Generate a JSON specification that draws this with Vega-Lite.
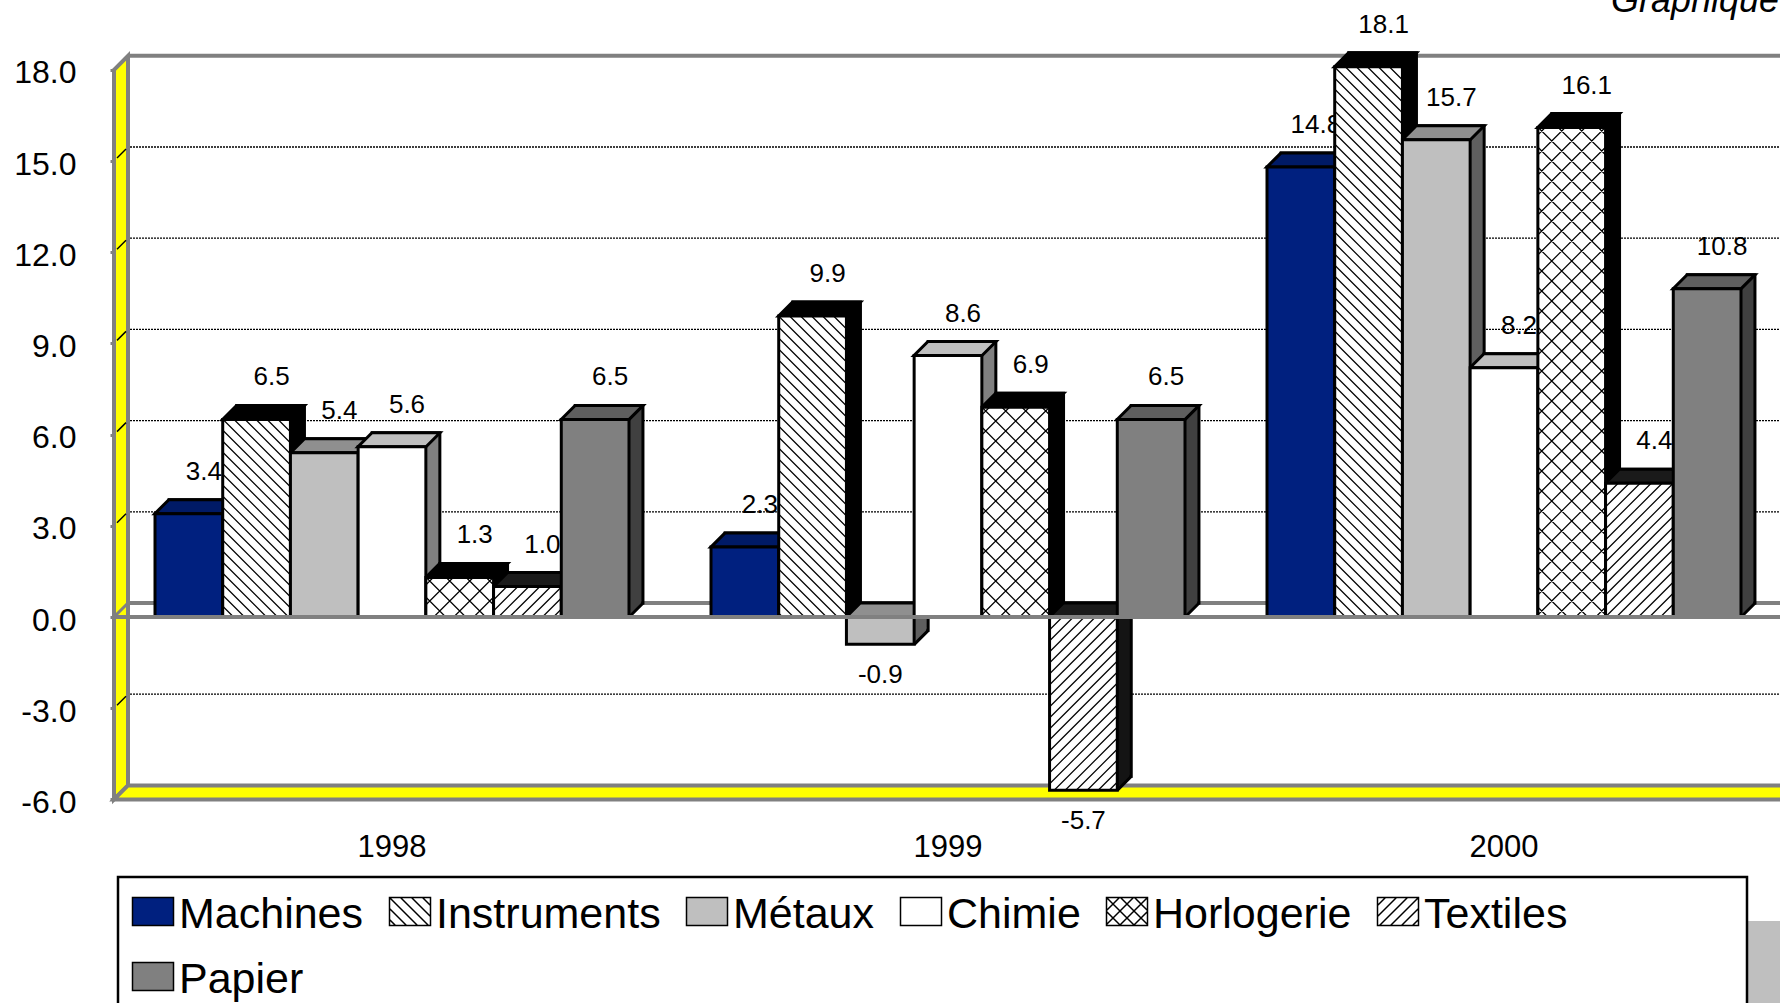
{
"$schema":"https://vega.github.io/schema/vega-lite/v6.json",
"width":1780,"height":1003,"padding":0,"autosize":{"type":"none"},
"background":"white",
"view":{"stroke":null},
"config":{"font":"Liberation Sans","text":{"font":"Liberation Sans"}},
"datasets":{
"bars":[
{"year":"1998","series":"Machines","value":3.4},{"year":"1998","series":"Instruments","value":6.5},{"year":"1998","series":"Métaux","value":5.4},{"year":"1998","series":"Chimie","value":5.6},{"year":"1998","series":"Horlogerie","value":1.3},{"year":"1998","series":"Textiles","value":1.0},{"year":"1998","series":"Papier","value":6.5},
{"year":"1999","series":"Machines","value":2.3},{"year":"1999","series":"Instruments","value":9.9},{"year":"1999","series":"Métaux","value":-0.9},{"year":"1999","series":"Chimie","value":8.6},{"year":"1999","series":"Horlogerie","value":6.9},{"year":"1999","series":"Textiles","value":-5.7},{"year":"1999","series":"Papier","value":6.5},
{"year":"2000","series":"Machines","value":14.8},{"year":"2000","series":"Instruments","value":18.1},{"year":"2000","series":"Métaux","value":15.7},{"year":"2000","series":"Chimie","value":8.2},{"year":"2000","series":"Horlogerie","value":16.1},{"year":"2000","series":"Textiles","value":4.4},{"year":"2000","series":"Papier","value":10.8}
],
"grid":[{"level":-3},{"level":3},{"level":6},{"level":9},{"level":12},{"level":15}],
"one":[{"n":1}]
},
"resolve":{"scale":{"fill":"independent","shape":"independent"},"legend":{"fill":"independent","shape":"independent"}},
"layer":[
{"data":{"name":"one"},"mark":{"type":"point","filled":true,"opacity":1,"fill":"#FFFF00","stroke":"#808080","strokeWidth":4,"size":4,"xOffset":-278,"shape":"M0 0L14 -14V715.6L0 729.6Z"},
 "encoding":{"x":{"datum":"1998","type":"nominal","scale":{"domain":["1998","1999","2000"],"range":[114,1782],"paddingInner":0.1475,"paddingOuter":0.07375,"round":false},"axis":{"title":null,"labelAngle":0,"domain":false,"ticks":false,"grid":false,"offset":-204,"labelPadding":33,"labelFontSize":31,"labelFont":"Liberation Sans","labelColor":"#000000","zindex":0}},
 "y":{"datum":18,"type":"quantitative","scale":{"domain":[-6,18],"range":[799.4,69.8],"nice":false,"zero":false},"axis":{"title":null,"values":[-6,-3,0,3,6,9,12,15,18],"format":".1f","labelExpr":"replace(datum.label,'−','-')","grid":false,"domain":false,"offset":-114,"tickColor":"#808080","tickWidth":3,"tickSize":4,"labelPadding":34,"labelOffset":3,"labelFontSize":32,"labelFont":"Liberation Sans","labelColor":"#000000","zindex":0}}}},
{"data":{"name":"one"},"mark":{"type":"point","filled":true,"opacity":1,"fill":"#FFFF00","stroke":"#808080","strokeWidth":4,"size":4,"xOffset":-278,"shape":"M0 0L14 -14H1700V0Z"},
 "encoding":{"x":{"datum":"1998","type":"nominal"},"y":{"datum":-6,"type":"quantitative"}}},
{"data":{"name":"one"},"mark":{"type":"rule","stroke":"#808080","strokeWidth":4,"xOffset":-264,"x2Offset":290,"yOffset":-14},
 "encoding":{"x":{"datum":"1998","type":"nominal"},"x2":{"datum":"2000"},"y":{"datum":18,"type":"quantitative"}}},
{"data":{"name":"one"},"mark":{"type":"rule","stroke":"#808080","strokeWidth":4,"xOffset":-264,"x2Offset":290,"yOffset":-14},
 "encoding":{"x":{"datum":"1998","type":"nominal"},"x2":{"datum":"2000"},"y":{"datum":0,"type":"quantitative"}}},
{"data":{"name":"grid"},"mark":{"type":"rule","stroke":"#000000","strokeWidth":1.3,"strokeDash":[2,1],"xOffset":-262,"x2Offset":290,"yOffset":-14},
 "encoding":{"x":{"datum":"1998","type":"nominal"},"x2":{"datum":"2000"},"y":{"field":"level","type":"quantitative"}}},
{"data":{"name":"grid"},"mark":{"type":"point","filled":false,"opacity":1,"stroke":"#000000","strokeWidth":1.5,"size":4,"xOffset":-278,"shape":"M3 -3L12 -12"},
 "encoding":{"x":{"datum":"1998","type":"nominal"},"y":{"field":"level","type":"quantitative"}}},
{"data":{"name":"one"},"mark":{"type":"point","filled":false,"opacity":1,"stroke":"#808080","strokeWidth":3,"size":4,"xOffset":-278,"shape":"M0 0L14 -14"},
 "encoding":{"x":{"datum":"1998","type":"nominal"},"y":{"datum":0,"type":"quantitative"}}},
{"data":{"name":"one"},"mark":{"type":"point","filled":true,"opacity":1,"fill":"#BFBFBF","size":4,"xOffset":243,"yOffset":0,"shape":"M0 0H40V100H0Z"},
 "encoding":{"x":{"datum":"2000","type":"nominal"},"y":{"datum":-10,"type":"quantitative"}}},
{"data":{"name":"one"},"mark":{"type":"point","filled":true,"opacity":1,"fill":"#FFFFFF","stroke":"#000000","strokeWidth":2.5,"size":4,"xOffset":-274,"shape":"M0 0H1629V160H0Z"},
 "encoding":{"x":{"datum":"1998","type":"nominal"},"y":{"datum":-8.55,"type":"quantitative"}}},

{"data":{"name":"bars"},"transform":[{"filter":"datum.series==='Machines'"}],"mark":{"type":"bar","width":67.7,"fill":"#00104F","stroke":"#000000","strokeWidth":3,"xOffset":-189.1,"yOffset":-14},"encoding":{"x":{"field":"year","type":"nominal"},"y":{"field":"value","type":"quantitative"}}},
{"data":{"name":"bars"},"transform":[{"filter":"datum.series==='Instruments'"}],"mark":{"type":"bar","width":67.7,"fill":"#000000","stroke":"#000000","strokeWidth":3,"xOffset":-121.4,"yOffset":-14},"encoding":{"x":{"field":"year","type":"nominal"},"y":{"field":"value","type":"quantitative"}}},
{"data":{"name":"bars"},"transform":[{"filter":"datum.series==='Métaux'"}],"mark":{"type":"bar","width":67.7,"fill":"#5F5F5F","stroke":"#000000","strokeWidth":3,"xOffset":-53.7,"yOffset":-14},"encoding":{"x":{"field":"year","type":"nominal"},"y":{"field":"value","type":"quantitative"}}},
{"data":{"name":"bars"},"transform":[{"filter":"datum.series==='Chimie'"}],"mark":{"type":"bar","width":67.7,"fill":"#808080","stroke":"#000000","strokeWidth":3,"xOffset":14,"yOffset":-14},"encoding":{"x":{"field":"year","type":"nominal"},"y":{"field":"value","type":"quantitative"}}},
{"data":{"name":"bars"},"transform":[{"filter":"datum.series==='Horlogerie'"}],"mark":{"type":"bar","width":67.7,"fill":"#000000","stroke":"#000000","strokeWidth":3,"xOffset":81.7,"yOffset":-14},"encoding":{"x":{"field":"year","type":"nominal"},"y":{"field":"value","type":"quantitative"}}},
{"data":{"name":"bars"},"transform":[{"filter":"datum.series==='Textiles'"}],"mark":{"type":"bar","width":67.7,"fill":"#141414","stroke":"#000000","strokeWidth":3,"xOffset":149.4,"yOffset":-14},"encoding":{"x":{"field":"year","type":"nominal"},"y":{"field":"value","type":"quantitative"}}},
{"data":{"name":"bars"},"transform":[{"filter":"datum.series==='Papier'"}],"mark":{"type":"bar","width":67.7,"fill":"#404040","stroke":"#000000","strokeWidth":3,"xOffset":217.1,"yOffset":-14},"encoding":{"x":{"field":"year","type":"nominal"},"y":{"field":"value","type":"quantitative"}}},

{"data":{"name":"bars"},"transform":[{"filter":"datum.value>=0"}],"mark":{"type":"point","filled":true,"opacity":1,"size":4,"shape":"M34 0L46 -12V-17H34Z"},
 "encoding":{"x":{"field":"year","type":"nominal"},"xOffset":{"field":"series","type":"nominal","scale":{"domain":["Machines","Instruments","Métaux","Chimie","Horlogerie","Textiles","Papier"],"paddingInner":0,"paddingOuter":0}},"y":{"datum":0,"type":"quantitative"},
 "fill":{"field":"series","type":"nominal","legend":null,"scale":{"domain":["Machines","Instruments","Métaux","Chimie","Horlogerie","Textiles","Papier"],"range":["#00104F","#000000","#5F5F5F","#808080","#000000","#141414","#404040"]}}}},
{"data":{"name":"bars"},"transform":[{"filter":"datum.value<0"}],"mark":{"type":"point","filled":true,"opacity":1,"size":4,"shape":"M34 0L46 -12V-17H34Z"},
 "encoding":{"x":{"field":"year","type":"nominal"},"xOffset":{"field":"series","type":"nominal"},"y":{"field":"value","type":"quantitative"},
 "fill":{"field":"series","type":"nominal","legend":null,"scale":{"domain":["Machines","Instruments","Métaux","Chimie","Horlogerie","Textiles","Papier"],"range":["#00104F","#000000","#5F5F5F","#808080","#000000","#141414","#404040"]}}}},
{"data":{"name":"bars"},"transform":[{"filter":"datum.value>=0"}],"mark":{"type":"point","filled":false,"opacity":1,"size":4,"stroke":"#000000","strokeWidth":3,"shape":"M34 0L48 -14"},
 "encoding":{"x":{"field":"year","type":"nominal"},"xOffset":{"field":"series","type":"nominal"},"y":{"datum":0,"type":"quantitative"}}},
{"data":{"name":"bars"},"transform":[{"filter":"datum.value<0"}],"mark":{"type":"point","filled":false,"opacity":1,"size":4,"stroke":"#000000","strokeWidth":3,"shape":"M34 0L48 -14"},
 "encoding":{"x":{"field":"year","type":"nominal"},"xOffset":{"field":"series","type":"nominal"},"y":{"field":"value","type":"quantitative"}}},

{"data":{"name":"bars"},"transform":[{"filter":"datum.value>=0"}],"mark":{"type":"point","filled":true,"opacity":1,"size":4,"stroke":"#000000","strokeWidth":3,"shape":"M-34 0H34L48 -14H-20Z"},
 "encoding":{"x":{"field":"year","type":"nominal"},"xOffset":{"field":"series","type":"nominal"},"y":{"field":"value","type":"quantitative"},
 "fill":{"field":"series","type":"nominal","legend":null,"scale":{"domain":["Machines","Instruments","Métaux","Chimie","Horlogerie","Textiles","Papier"],"range":["#001A66","#000000","#8F8F8F","#BFBFBF","#000000","#1A1A1A","#5F5F5F"]}}}},
{"data":{"name":"bars"},"transform":[{"filter":"datum.value<0"}],"mark":{"type":"point","filled":true,"opacity":1,"size":4,"stroke":"#000000","strokeWidth":3,"shape":"M-34 0H34L48 -14H-20Z"},
 "encoding":{"x":{"field":"year","type":"nominal"},"xOffset":{"field":"series","type":"nominal"},"y":{"datum":0,"type":"quantitative"},
 "fill":{"field":"series","type":"nominal","legend":null,"scale":{"domain":["Machines","Instruments","Métaux","Chimie","Horlogerie","Textiles","Papier"],"range":["#001A66","#000000","#8F8F8F","#BFBFBF","#000000","#1A1A1A","#5F5F5F"]}}}},

{"data":{"name":"bars"},"transform":[{"filter":"datum.value>=0"}],"mark":{"type":"text","font":"Liberation Sans","fontSize":26,"color":"#000000","baseline":"middle","align":"center","dx":15,"dy":-42},
 "encoding":{"x":{"field":"year","type":"nominal"},"xOffset":{"field":"series","type":"nominal"},"y":{"field":"value","type":"quantitative"},"text":{"field":"value","type":"quantitative","format":".1f"}}},
{"data":{"name":"bars"},"transform":[{"filter":"datum.value<0"}],"mark":{"type":"text","font":"Liberation Sans","fontSize":26,"color":"#000000","baseline":"middle","align":"center","dx":0,"dy":30.5},
 "encoding":{"x":{"field":"year","type":"nominal"},"xOffset":{"field":"series","type":"nominal"},"y":{"field":"value","type":"quantitative"},"text":{"field":"value","type":"nominal"}}},

{"data":{"name":"bars"},"mark":{"type":"bar","stroke":"#000000","strokeWidth":3},
 "encoding":{"x":{"field":"year","type":"nominal"},"xOffset":{"field":"series","type":"nominal"},"y":{"field":"value","type":"quantitative"},
 "fill":{"field":"series","type":"nominal","legend":null,"scale":{"domain":["Machines","Instruments","Métaux","Chimie","Horlogerie","Textiles","Papier"],"range":["#00207F","#FFFFFF","#BFBFBF","#FFFFFF","#FFFFFF","#FFFFFF","#808080"]}}}},

{"data":{"name":"bars"},"transform":[{"filter":"datum.series==='Instruments'"}],"mark":{"type":"point","filled":false,"opacity":1,"size":4,"stroke":"#000000","strokeWidth":1.2},
 "encoding":{"x":{"field":"year","type":"nominal"},"xOffset":{"field":"series","type":"nominal"},"y":{"datum":0,"type":"quantitative"},
 "shape":{"field":"year","type":"nominal","legend":null,"scale":{"domain":["1998","1999","2000"],"range":[
 "M32 -198l2 2M21 -198l13 13M10 -198l24 24M-1 -198l35 35M-12 -198l46 46M-23 -198l57 57M-34 -198l68 68m-68 -57l68 68m-68 -57l68 68m-68 -57l68 68m-68 -57l68 68m-68 -57l68 68m-68 -57l68 68m-68 -57l68 68m-68 -57l68 68m-68 -57l68 68m-68 -57l68 68m-68 -57l68 68M-34 -66l66 66M-34 -55l55 55M-34 -44l44 44M-34 -33l33 33M-34 -22l22 22M-34 -11l11 11",
 "M32 -301l2 2M21 -301l13 13M10 -301l24 24M-1 -301l35 35M-12 -301l46 46M-23 -301l57 57M-34 -301l68 68m-68 -57l68 68m-68 -57l68 68m-68 -57l68 68m-68 -57l68 68m-68 -57l68 68m-68 -57l68 68m-68 -57l68 68m-68 -57l68 68m-68 -57l68 68m-68 -57l68 68m-68 -57l68 68m-68 -57l68 68m-68 -57l68 68m-68 -57l68 68m-68 -57l68 68m-68 -57l68 68m-68 -57l68 68m-68 -57l68 68m-68 -57l68 68m-68 -57l68 68m-68 -57l68 68M-34 -59l59 59M-34 -48l48 48M-34 -37l37 37M-34 -26l26 26M-34 -15l15 15M-34 -4l4 4",
 "M32 -550l2 2M21 -550l13 13M10 -550l24 24M-1 -550l35 35M-12 -550l46 46M-23 -550l57 57M-34 -550l68 68m-68 -57l68 68m-68 -57l68 68m-68 -57l68 68m-68 -57l68 68m-68 -57l68 68m-68 -57l68 68m-68 -57l68 68m-68 -57l68 68m-68 -57l68 68m-68 -57l68 68m-68 -57l68 68m-68 -57l68 68m-68 -57l68 68m-68 -57l68 68m-68 -57l68 68m-68 -57l68 68m-68 -57l68 68m-68 -57l68 68m-68 -57l68 68m-68 -57l68 68m-68 -57l68 68m-68 -57l68 68m-68 -57l68 68m-68 -57l68 68m-68 -57l68 68m-68 -57l68 68m-68 -57l68 68m-68 -57l68 68m-68 -57l68 68m-68 -57l68 68m-68 -57l68 68m-68 -57l68 68m-68 -57l68 68m-68 -57l68 68m-68 -57l68 68m-68 -57l68 68m-68 -57l68 68m-68 -57l68 68m-68 -57l68 68m-68 -57l68 68m-68 -57l68 68m-68 -57l68 68m-68 -57l68 68M-34 -66l66 66M-34 -55l55 55M-34 -44l44 44M-34 -33l33 33M-34 -22l22 22M-34 -11l11 11"
 ]}}}},
{"data":{"name":"bars"},"transform":[{"filter":"datum.series==='Horlogerie'"}],"mark":{"type":"point","filled":false,"opacity":1,"size":4,"stroke":"#000000","strokeWidth":1.2},
 "encoding":{"x":{"field":"year","type":"nominal"},"xOffset":{"field":"series","type":"nominal"},"y":{"datum":0,"type":"quantitative"},
 "shape":{"field":"year","type":"nominal","legend":null,"scale":{"domain":["1998","1999","2000"],"range":[
 "M26 -40l8 8M6 -40l28 28M-14 -40l40 40M-34 -40l40 40M-34 -20l20 20M-26 -40l-8 8M-6 -40l-28 28M14 -40l-40 40M34 -40l-40 40M34 -20l-20 20",
 "M26 -210l8 8M6 -210l28 28M-14 -210l48 48M-34 -210l68 68m-68 -48l68 68m-68 -48l68 68m-68 -48l68 68m-68 -48l68 68m-68 -48l68 68m-68 -48l68 68m-68 -48l68 68M-34 -50l50 50M-34 -30l30 30M-34 -10l10 10M-26 -210l-8 8M-6 -210l-28 28M14 -210l-48 48M34 -210l-68 68m68 -48l-68 68m68 -48l-68 68m68 -48l-68 68m68 -48l-68 68m68 -48l-68 68m68 -48l-68 68m68 -48l-68 68M34 -50l-50 50M34 -30l-30 30M34 -10l-10 10",
 "M26 -490l8 8M6 -490l28 28M-14 -490l48 48M-34 -490l68 68m-68 -48l68 68m-68 -48l68 68m-68 -48l68 68m-68 -48l68 68m-68 -48l68 68m-68 -48l68 68m-68 -48l68 68m-68 -48l68 68m-68 -48l68 68m-68 -48l68 68m-68 -48l68 68m-68 -48l68 68m-68 -48l68 68m-68 -48l68 68m-68 -48l68 68m-68 -48l68 68m-68 -48l68 68m-68 -48l68 68m-68 -48l68 68m-68 -48l68 68m-68 -48l68 68M-34 -50l50 50M-34 -30l30 30M-34 -10l10 10M-26 -490l-8 8M-6 -490l-28 28M14 -490l-48 48M34 -490l-68 68m68 -48l-68 68m68 -48l-68 68m68 -48l-68 68m68 -48l-68 68m68 -48l-68 68m68 -48l-68 68m68 -48l-68 68m68 -48l-68 68m68 -48l-68 68m68 -48l-68 68m68 -48l-68 68m68 -48l-68 68m68 -48l-68 68m68 -48l-68 68m68 -48l-68 68m68 -48l-68 68m68 -48l-68 68m68 -48l-68 68m68 -48l-68 68m68 -48l-68 68m68 -48l-68 68M34 -50l-50 50M34 -30l-30 30M34 -10l-10 10"
 ]}}}},
{"data":{"name":"bars"},"transform":[{"filter":"datum.series==='Textiles'"}],"mark":{"type":"point","filled":false,"opacity":1,"size":4,"stroke":"#000000","strokeWidth":1.2},
 "encoding":{"x":{"field":"year","type":"nominal"},"xOffset":{"field":"series","type":"nominal"},"y":{"datum":0,"type":"quantitative"},
 "shape":{"field":"year","type":"nominal","legend":null,"scale":{"domain":["1998","1999","2000"],"range":[
 "M-32 -30l-2 2M-21 -30l-13 13M-10 -30l-24 24M1 -30l-30 30M12 -30l-30 30M23 -30l-30 30M34 -30l-30 30M34 -19l-19 19M34 -8l-8 8",
 "M-32 0l-2 2M-21 0l-13 13M-10 0l-24 24M1 0l-35 35M12 0l-46 46M23 0l-57 57M34 0l-68 68m68 -57l-68 68m68 -57l-68 68m68 -57l-68 68m68 -57l-68 68m68 -57l-68 68m68 -57l-68 68m68 -57l-68 68m68 -57l-68 68m68 -57l-68 68M34 110l-63 63M34 121l-52 52M34 132l-41 41M34 143l-30 30M34 154l-19 19M34 165l-8 8",
 "M-32 -134l-2 2M-21 -134l-13 13M-10 -134l-24 24M1 -134l-35 35M12 -134l-46 46M23 -134l-57 57M34 -134l-68 68m68 -57l-68 68m68 -57l-68 68m68 -57l-68 68m68 -57l-68 68m68 -57l-68 68m68 -57l-68 68M34 -57l-57 57M34 -46l-46 46M34 -35l-35 35M34 -24l-24 24M34 -13l-13 13M34 -2l-2 2"
 ]}}}},

{"data":{"name":"one"},"mark":{"type":"rule","stroke":"#808080","strokeWidth":4,"xOffset":-278,"x2Offset":290},
 "encoding":{"x":{"datum":"1998","type":"nominal"},"x2":{"datum":"2000"},"y":{"datum":0,"type":"quantitative"}}},

{"data":{"name":"one"},"mark":{"type":"text","font":"Liberation Sans","fontStyle":"italic","fontSize":36,"align":"left","baseline":"alphabetic","color":"#000000","xOffset":107,"yOffset":-58,"text":"Graphique"},
 "encoding":{"x":{"datum":"2000","type":"nominal"},"y":{"datum":18,"type":"quantitative"}}},

{"data":{"name":"bars"},"transform":[{"filter":"false"}],"mark":{"type":"point","filled":true,"opacity":1,"size":4,"stroke":"#000000","strokeWidth":2},
 "encoding":{
 "fill":{"field":"series","type":"nominal","scale":{"domain":["Machines","Instruments","Métaux","Chimie","Horlogerie","Textiles","Papier"],"range":["#00207F","#FFFFFF","#BFBFBF","#FFFFFF","#FFFFFF","#FFFFFF","#808080"]},
  "legend":{"title":null,"orient":"none","direction":"horizontal","legendX":111,"legendY":893,"columns":6,"gridAlign":"none","padding":0,"symbolSize":4,"symbolOpacity":1,"labelFont":"Liberation Sans","labelFontSize":43,"labelColor":"#000000","labelOffset":25,"labelLimit":500,"columnPadding":4,"rowPadding":21,"encode":{"symbols":{"update":{"stroke":{"value":"#000000"},"strokeWidth":{"value":1.5}}}}}},
 "shape":{"field":"series","type":"nominal","scale":{"domain":["Machines","Instruments","Métaux","Chimie","Horlogerie","Textiles","Papier"],"range":[
 "M0 -17H41V11H0Z",
 "M0 -17H41V11H0ZM0 -17l28 28M11 -17l28 28M22 -17l19 19M33 -17l8 8M0 -6l17 17M0 5l6 6",
 "M0 -17H41V11H0Z",
 "M0 -17H41V11H0Z",
 "M0 -17H41V11H0ZM0 -17l28 28M14 -17l27 27M28 -17l13 13M0 -3l14 14M41 -17l-28 28M27 -17l-27 27M13 -17l-13 13M41 -3l-14 14",
 "M0 -17H41V11H0ZM41 -17l-28 28M30 -17l-28 28M19 -17l-19 19M8 -17l-8 8M41 -6l-17 17M41 5l-6 6",
 "M0 -17H41V11H0Z"
 ]},
  "legend":{"title":null,"orient":"none","direction":"horizontal","legendX":111,"legendY":893,"columns":6,"gridAlign":"none","padding":0,"symbolSize":4,"symbolOpacity":1,"labelFont":"Liberation Sans","labelFontSize":43,"labelColor":"#000000","labelOffset":25,"labelLimit":500,"columnPadding":4,"rowPadding":21,"encode":{"symbols":{"update":{"stroke":{"value":"#000000"},"strokeWidth":{"value":1.5}}}}}}
 }}
]
}
